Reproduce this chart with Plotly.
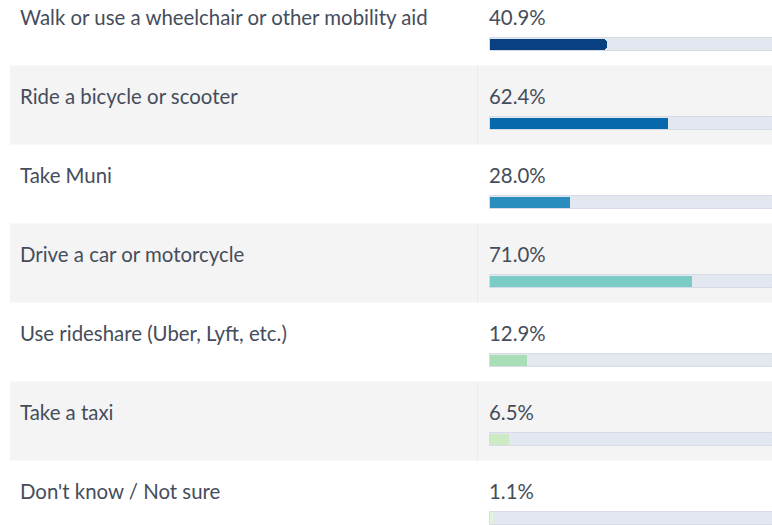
import plotly.graph_objects as go

# ---- data ----
categories = [
    "Walk or use a wheelchair or other mobility aid",
    "Ride a bicycle or scooter",
    "Take Muni",
    "Drive a car or motorcycle",
    "Use rideshare (Uber, Lyft, etc.)",
    "Take a taxi",
    "Don't know / Not sure",
]
values = [40.9, 62.4, 28.0, 71.0, 12.9, 6.5, 1.1]
bar_colors = ["#084081", "#0868ac", "#2b8cbe", "#7bccc4", "#a8ddb5", "#ccebc5", "#e0f3db"]

# ---- geometry (pixels) ----
W, H = 772, 525
X0_PX = 490          # where 0% sits
PX_PER_PCT = 2.85
ROW_PX = 79
FIRST_BAR_PX = 44.5

x_range = [-X0_PX / PX_PER_PCT, (W - X0_PX) / PX_PER_PCT]
y_top = -FIRST_BAR_PX / ROW_PX
y_bot = (H - FIRST_BAR_PX) / ROW_PX

n = len(categories)
ys = list(range(n))
track = [100] * n

fig = go.Figure()
fig.add_trace(go.Bar(
    y=ys, x=track, orientation="h", width=13.5 / ROW_PX,
    marker=dict(color="#e3e7f0", cornerradius=4, line=dict(color="#d6dbe5", width=1)),
    hoverinfo="skip", showlegend=False))
fig.add_trace(go.Bar(
    y=ys, x=values, orientation="h", width=11 / ROW_PX,
    marker=dict(color=bar_colors, cornerradius=4, line=dict(width=0)),
    hoverinfo="skip", showlegend=False))

shapes = []
for k in ys:
    if k % 2 == 1:
        y0 = k + (-13.5 - FIRST_BAR_PX) / ROW_PX
        shapes.append(dict(type="rect", xref="paper", yref="y", x0=10 / W, x1=1,
                           y0=y0, y1=y0 + 1, fillcolor="#f4f4f4", line_width=0, layer="below"))
        shapes.append(dict(type="line", xref="paper", yref="y", x0=477.5 / W, x1=477.5 / W,
                           y0=y0, y1=y0 + 1, line=dict(color="#eaeaea", width=1), layer="below"))

annotations = []
txt_font = dict(family="Lato, sans-serif", size=20.4, color="#454d5b")
for k, (c, v) in enumerate(zip(categories, values)):
    yk = k - 27.5 / ROW_PX
    annotations.append(dict(xref="paper", yref="y", x=18 / W, y=yk, text=c, showarrow=False,
                            xanchor="left", yanchor="middle", font=txt_font))
    annotations.append(dict(xref="x", yref="y", x=0, y=yk, text=f"{v:.1f}%", showarrow=False,
                            xanchor="left", yanchor="middle", xshift=-3, font=txt_font))

fig.update_layout(
    width=W, height=H, margin=dict(l=0, r=0, t=0, b=0),
    paper_bgcolor="white", plot_bgcolor="rgba(0,0,0,0)",
    barmode="overlay", bargap=0,
    xaxis=dict(range=x_range, visible=False, fixedrange=True),
    yaxis=dict(range=[y_bot, y_top], visible=False, fixedrange=True),
    shapes=shapes, annotations=annotations,
)

fig.write_html("out.html", post_script="document.body.style.margin='0';",
               config={"displayModeBar": False})
